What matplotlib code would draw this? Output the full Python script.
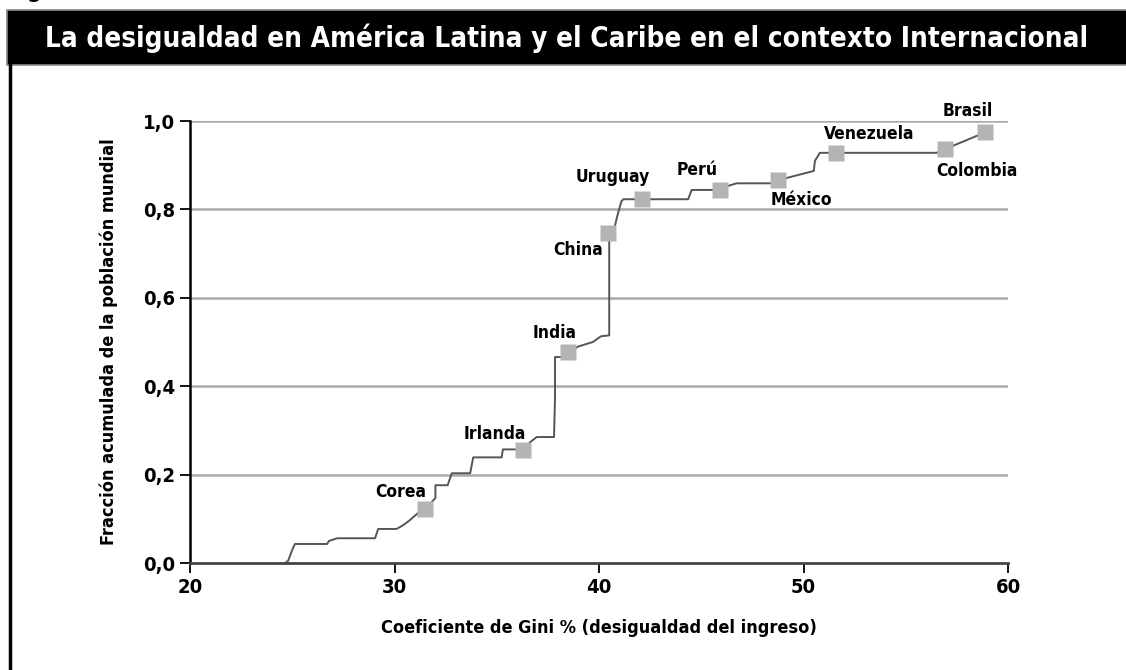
import matplotlib
matplotlib.use("Agg")
import matplotlib.pyplot as plt
import matplotlib.font_manager as fm
from matplotlib.patches import Rectangle
from matplotlib.lines import Line2D

# ---- data ----
curve_gini = [24.65, 24.8, 25.0, 25.13, 26.7, 26.8, 27.2, 29.05, 29.2, 30.1, 30.4, 30.7,
              31.15, 31.5, 32.0, 32.0, 32.6, 32.8, 33.7, 33.85, 35.24, 35.3, 35.97, 36.3,
              36.6, 36.95, 37.8, 37.85, 37.85, 38.2, 38.48, 39.0, 39.7, 40.1, 40.5, 40.5,
              40.78, 40.9, 41.1, 41.2, 44.36, 44.53, 45.94, 46.3, 46.73, 48.5, 48.75,
              50.5, 50.56, 50.8, 56.5, 56.9, 58.87]
curve_frac = [0.0, 0.005, 0.03, 0.043, 0.043, 0.05, 0.056, 0.056, 0.077, 0.077, 0.085, 0.095,
              0.113, 0.122, 0.147, 0.176, 0.176, 0.203, 0.203, 0.239, 0.239, 0.257, 0.257, 0.255,
              0.272, 0.285, 0.285, 0.375, 0.466, 0.466, 0.477, 0.49, 0.50, 0.513, 0.515, 0.74,
              0.763, 0.786, 0.819, 0.823, 0.823, 0.844, 0.844, 0.853, 0.859, 0.859, 0.866,
              0.887, 0.91, 0.928, 0.928, 0.936, 0.974]

countries = ["Corea", "Irlanda", "India", "China", "Uruguay", "Perú", "México",
             "Venezuela", "Colombia", "Brasil"]
country_gini = [31.5, 36.3, 38.48, 40.45, 42.08, 45.94, 48.75, 51.6, 56.9, 58.87]
country_frac = [0.122, 0.255, 0.477, 0.746, 0.823, 0.844, 0.866, 0.927, 0.936, 0.974]
label_gini = [30.32, 34.9, 37.85, 38.97, 40.68, 44.8, 49.9, 53.2, 58.5, 58.04]
label_frac = [0.16, 0.292, 0.52, 0.709, 0.874, 0.89, 0.822, 0.97, 0.887, 1.022]

xticks = [20, 30, 40, 50, 60]
yticks = [0.0, 0.2, 0.4, 0.6, 0.8, 1.0]
ytick_labels = ["0,0", "0,2", "0,4", "0,6", "0,8", "1,0"]

title = "La desigualdad en América Latina y el Caribe en el contexto Internacional"
xlabel = "Coeficiente de Gini % (desigualdad del ingreso)"
ylabel = "Fracción acumulada de la población mundial"


# ---- pick a condensed bold font if one is installed ----
def pick_condensed():
    best = None
    best_score = -1
    for f in fm.fontManager.ttflist:
        name = f.name
        fn = f.fname.lower()
        cond = ("narrow" in name.lower() or "condensed" in name.lower()
                or "narrow" in fn or "condensed" in fn
                or str(f.stretch) in ("condensed", "semi-condensed", "extra-condensed"))
        if not cond:
            continue
        w = f.weight if isinstance(f.weight, int) else {"bold": 700, "normal": 400}.get(f.weight, 400)
        italic = f.style != "normal"
        score = (100 if w >= 700 else 0) - (200 if italic else 0)
        if "liberation" in fn:
            score += 30
        if "dejavu" in fn:
            score += 10
        if score > best_score:
            best_score = score
            best = f.fname
    return best


cfont = pick_condensed()


def fp(size):
    if cfont:
        return fm.FontProperties(fname=cfont, size=size)
    return fm.FontProperties(family="DejaVu Sans", weight="bold", size=size)


W, H = 1126, 670
fig = plt.figure(figsize=(W / 100, H / 100), dpi=100)
fig.patch.set_facecolor("white")

# title bar
bar = Rectangle((7 / W, 1 - 65 / H), 1.0, 55 / H, transform=fig.transFigure,
                facecolor="black", edgecolor="#888888", linewidth=1.2)
fig.patches.append(bar)
ttl = fig.text(567 / W, 1 - 38 / H, title, color="white", fontproperties=fp(27),
               ha="center", va="center")
# fit title width to ~1044 px
fig.canvas.draw()
bb = ttl.get_window_extent()
ttl.set_fontproperties(fp(27 * 1044 / bb.width))

# left frame line
fig.lines.append(Line2D([10 / W, 10 / W], [0, 1 - 65 / H], transform=fig.transFigure,
                        color="black", linewidth=2.5))
# cropped text fragment at the very top
fig.text(27 / W, 1 + 3 / H, "g", color="black", fontproperties=fp(17), ha="left", va="baseline")

ax = fig.add_axes([190 / W, 1 - 563 / H, (1008 - 190) / W, (563 - 121) / H])
ax.set_xlim(20, 60)
ax.set_ylim(0, 1.0)

for y in yticks[1:]:
    ax.axhline(y, color="#aaaaaa", linewidth=1.8, zorder=1)

ax.plot(curve_gini, curve_frac, color="#555555", linewidth=1.4, zorder=2)
ax.plot(country_gini, country_frac, linestyle="none", marker="s", markersize=11,
        markerfacecolor="#b4b4b4", markeredgecolor="none", zorder=3)

for name, lx, ly in zip(countries, label_gini, label_frac):
    ax.text(lx, ly, name, fontproperties=fp(12.5), ha="center", va="center",
            clip_on=False, zorder=4)

for s in ["top", "right"]:
    ax.spines[s].set_visible(False)
ax.spines["left"].set_color("black")
ax.spines["left"].set_linewidth(1.8)
ax.spines["bottom"].set_color("#444444")
ax.spines["bottom"].set_linewidth(2.0)

ax.set_xticks(xticks)
ax.set_xticklabels([str(v) for v in xticks])
ax.set_yticks(yticks)
ax.set_yticklabels(ytick_labels)
ax.tick_params(axis="both", direction="out", length=7.5, width=1.3, color="black", pad=3)
for lab in ax.get_xticklabels() + ax.get_yticklabels():
    lab.set_fontproperties(fp(14.5))

ax.set_xlabel(xlabel, fontproperties=fp(13), labelpad=16)
ax.set_ylabel(ylabel, fontproperties=fp(13), labelpad=18)

fig.savefig("out.png", dpi=100)
